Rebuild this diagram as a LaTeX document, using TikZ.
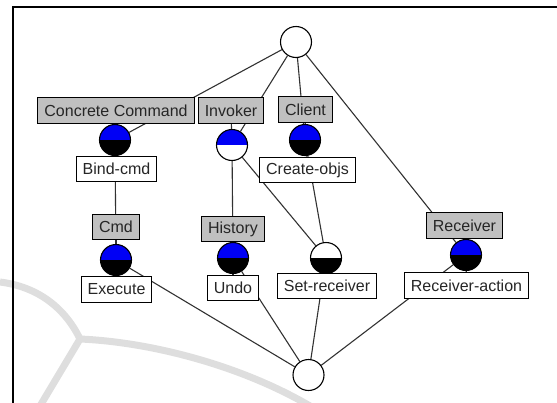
\documentclass[tikz,border=0pt]{standalone}
\usepackage{fontspec}
\setmainfont{Liberation Sans}
\pgfdeclarelayer{bg}
\pgfsetlayers{bg,main}
\definecolor{cblue}{RGB}{0,0,245}
\definecolor{attrgrey}{RGB}{192,192,192}
\definecolor{wmark}{RGB}{222,222,222}
\definecolor{linegrey}{RGB}{50,50,50}
\begin{document}
\begin{tikzpicture}[x=1pt,y=-1pt,
  edge/.style={draw=linegrey, line width=1.1pt},
  lbl/.style={draw=black, line width=1.1pt, fill=white, minimum height=25.5pt,
    inner xsep=6.5pt, inner ysep=0pt, font=\fontsize{16}{18}\selectfont, text=black!85},
  attr/.style={lbl, fill=attrgrey},
  concept/.style={circle, draw=black, line width=1.1pt, minimum size=31pt, inner sep=0pt, fill=white},
  halffill/.style 2 args={concept, path picture={
    \fill[#1] (path picture bounding box.north west) rectangle (path picture bounding box.east);
    \fill[#2] (path picture bounding box.west) rectangle (path picture bounding box.south east);}},
  wm/.style={draw=wmark, line width=7pt}
]
\useasboundingbox (0,0) rectangle (557,402);

% concepts
\node[concept] (top) at (296,42) {};
\node[halffill={cblue}{black}] (ccC) at (115,140) {};
\node[halffill={cblue}{white}] (invC) at (232,145) {};
\node[halffill={cblue}{black}] (cliC) at (305,140) {};
\node[halffill={cblue}{black}] (cmdC) at (116,260) {};
\node[halffill={cblue}{black}] (hisC) at (233,258) {};
\node[halffill={white}{black}] (setC) at (326,258) {};
\node[halffill={cblue}{black}] (recC) at (466,255) {};
\node[concept] (bot) at (308.5,375) {};

% labels
\node[attr] (ccL) at (116,110.5) {Concrete Command};
\node[attr] (invL) at (231,110.5) {Invoker};
\node[attr] (cliL) at (305.5,109.5) {Client};
\node[lbl] (bindL) at (116.5,169) {Bind-cmd};
\node[lbl] (crL) at (307.5,170) {Create-objs};
\node[attr] (cmdL) at (116,227) {Cmd};
\node[lbl] (exL) at (116.5,289.5) {Execute};
\node[attr] (hisL) at (233,229) {History};
\node[lbl] (undoL) at (233,288) {Undo};
\node[lbl] (setL) at (327,286) {Set-receiver};
\node[attr] (recL) at (464.5,225.5) {Receiver};
\node[lbl] (raL) at (466.5,285.5) {Receiver-action};

\begin{pgfonlayer}{bg}
  % watermark
  \coordinate (wj) at (80,339);
  \draw[wm] (0,282) .. controls (40,287) and (66,310) .. (wj);
  \draw[wm] (wj) .. controls (150,342) and (240,365) .. (310,406);
  \draw[wm] (wj) -- (40,406);
  % frame
  \coordinate (fa) at (12.5,406);
  \coordinate (fb) at (12.5,7);
  \coordinate (fc) at (560,7);
  \draw[black, line width=2pt] (fa) -- (fb) -- (fc);
  % lattice edges
  \draw[edge] (top) -- (ccC);
  \draw[edge] (top) -- (invC);
  \draw[edge] (top) -- (cliC);
  \draw[edge] (top) -- (recC);
  \draw[edge] (ccC) -- (cmdC);
  \draw[edge] (invC) -- (hisC);
  \draw[edge] (invC) -- (setC);
  \draw[edge] (cliC) -- (setC);
  \draw[edge] (cmdC) -- (bot);
  \draw[edge] (hisC) -- (bot);
  \draw[edge] (setC) -- (bot);
  \draw[edge] (recC) -- (bot);
  % label connectors
  \foreach \c/\l in {ccC/ccL, ccC/bindL, invC/invL, cliC/cliL, cliC/crL, cmdC/cmdL, cmdC/exL,
                     hisC/hisL, hisC/undoL, setC/setL, recC/recL, recC/raL}
    \draw[edge] (\c) -- (\l);
\end{pgfonlayer}
\end{tikzpicture}
\end{document}
